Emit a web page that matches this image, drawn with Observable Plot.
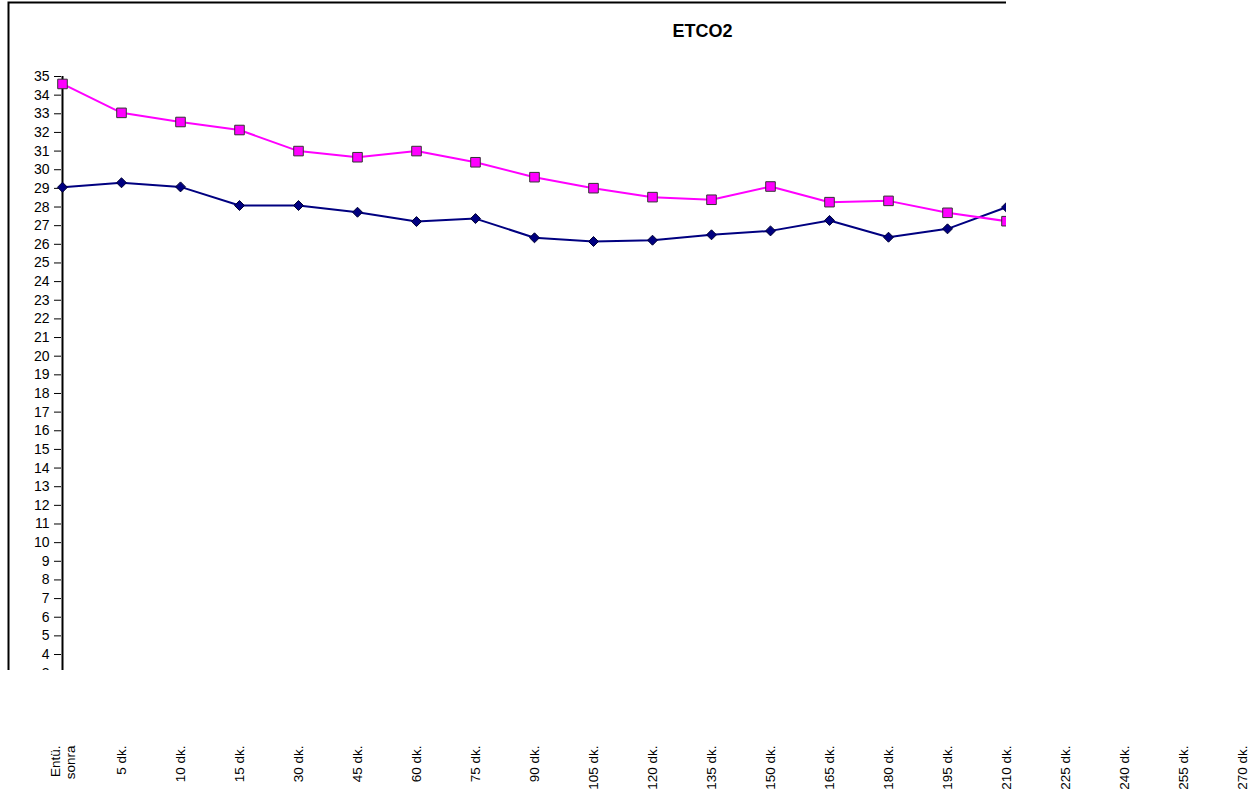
<!DOCTYPE html>
<html>
<head>
<meta charset="utf-8">
<script src="https://cdn.jsdelivr.net/npm/d3@7"></script>
<script src="https://cdn.jsdelivr.net/npm/@observablehq/plot@0.6"></script>
<style>
  html, body { margin: 0; padding: 0; background: #fff; overflow: hidden; }
</style>
</head>
<body>
<div id="chart"></div>
<script>
// Measurement times (x categories)
const categories = [
  "Entü.\nsonra", "5 dk.", "10 dk.", "15 dk.", "30 dk.", "45 dk.", "60 dk.",
  "75 dk.", "90 dk.", "105 dk.", "120 dk.", "135 dk.", "150 dk.", "165 dk.",
  "180 dk.", "195 dk.", "210 dk.", "225 dk.", "240 dk.", "255 dk.", "270 dk."
];

// ETCO2 means per group, from the start up to 210 dk.
const groupPink = [
  34.6, 33.05, 32.56, 32.13, 31.0, 30.67, 31.0, 30.4, 29.6,
  29.01, 28.53, 28.39, 29.1, 28.26, 28.33, 27.69, 27.24
];
const groupNavy = [
  29.06, 29.3, 29.08, 28.08, 28.08, 27.72, 27.22, 27.38, 26.35,
  26.15, 26.22, 26.51, 26.72, 27.28, 26.38, 26.83, 27.99
];

// Y tick values
const yTicks = d3.range(0, 36);

const toRows = (values) => values.map((v, i) => ({ time: categories[i], value: v }));
const pinkRows = toRows(groupPink);
const navyRows = toRows(groupNavy);

const font = "'Liberation Sans', Arial, Helvetica, sans-serif";

const chart = Plot.plot({
  width: 1255,
  height: 796,
  // the frame doubles as the visible window of the chart body
  marginLeft: 0,
  marginTop: 0,
  marginRight: 249,
  marginBottom: 126,
  style: { fontFamily: font, background: "#fff", color: "#000" },
  x: { type: "point", domain: categories, range: [61, 1242.2], padding: 0, axis: null },
  y: { domain: [0, 35], range: [728.6, 76], axis: null, label: null },
  marks: [
    // outer chart border
    Plot.frame({
      stroke: "#000", strokeWidth: 2,
      insetLeft: 8, insetTop: 2, insetRight: -10, insetBottom: -10,
      clip: true
    }),
    // top line of the plot area at 35
    Plot.ruleY([35], {
      x1: categories[0], x2: categories[categories.length - 1],
      stroke: "#808080", strokeWidth: 2, clip: true
    }),
    // value axis: tick lines
    Plot.axisY(yTicks, {
      anchor: "left", dx: 61, tickSize: 7, text: null,
      stroke: "#000", strokeWidth: 1, label: null, clip: true
    }),
    // value axis: tick labels
    Plot.text(yTicks, {
      y: d => d, text: d => String(d),
      frameAnchor: "left", dx: 49, textAnchor: "end", lineAnchor: "middle",
      fontSize: 14, fill: "#000", clip: true
    }),
    Plot.ruleX([categories[0]], {
      y1: 0, y2: 35, stroke: "#000", strokeWidth: 2, clip: true
    }),
    // series lines
    Plot.line(navyRows, { x: "time", y: "value", stroke: "#000080", strokeWidth: 2, clip: true }),
    Plot.line(pinkRows, { x: "time", y: "value", stroke: "#FF00FF", strokeWidth: 2, clip: true }),
    // series markers
    Plot.dot(navyRows, {
      x: "time", y: "value", symbol: "diamond2", r: 4.5,
      fill: "#000080", stroke: "#000033", strokeWidth: 1, clip: true
    }),
    Plot.dot(pinkRows, {
      x: "time", y: "value", symbol: "square", r: 5.4,
      fill: "#FF00FF", stroke: "#333333", strokeWidth: 1, clip: true
    }),
    // title
    Plot.text(["ETCO2"], {
      frameAnchor: "top-left", dx: 702, dy: 31,
      text: d => d, textAnchor: "middle", lineAnchor: "middle",
      fontSize: 18, fontWeight: "bold", fill: "#000"
    }),
    // category labels
    Plot.text(categories, {
      x: d => d, text: d => d,
      frameAnchor: "bottom", dy: 75,
      rotate: -90, textAnchor: "end", lineAnchor: "middle", lineHeight: 1.15,
      fontSize: 13.5, fill: "#000"
    })
  ]
});

document.getElementById("chart").appendChild(chart);
</script>
</body>
</html>
